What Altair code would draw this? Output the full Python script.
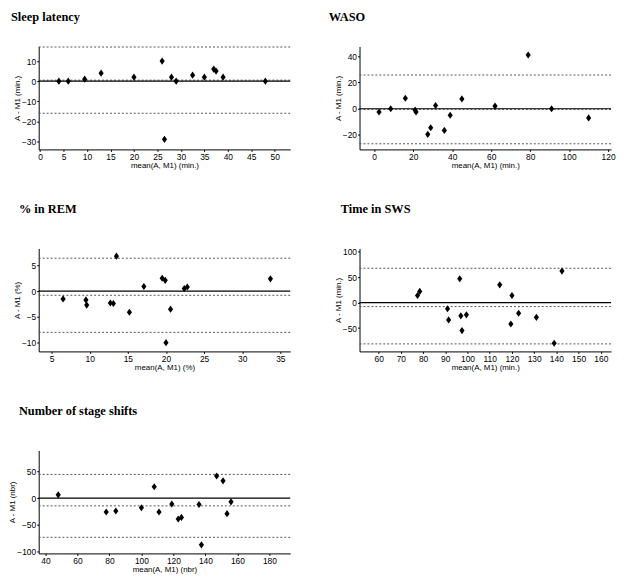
import altair as alt
import pandas as pd

# ---------------- data ----------------
# Sleep latency
sl_mean = [4, 6, 9.5, 13, 20, 26, 26.5, 28, 29, 32.5, 35, 37, 37.5, 39, 48]
sl_diff = [0, 0, 1, 4, 2, 10, -29, 2, 0, 3, 2, 6, 5, 2, 0]
sl_lines = [17, 0.5, -16]

# WASO
wa_mean = [2.5, 8.5, 16, 21, 21.5, 27.5, 29, 31.5, 36, 39, 45, 62, 79, 91, 110]
wa_diff = [-2.5, 0, 8, -1, -2.5, -19.5, -14.5, 2.5, -16.5, -5, 7.5, 2, 41, 0, -7]
wa_lines = [25.7, -0.5, -26.7]

# % in REM
re_mean = [6.5, 9.5, 9.6, 12.7, 13.1, 13.5, 15.2, 17.1, 19.5, 19.9, 20, 20.6, 22.4, 22.8, 33.7]
re_diff = [-1.5, -1.7, -2.7, -2.3, -2.4, 6.8, -4.1, 0.9, 2.5, 2.1, -10, -3.5, 0.5, 0.8, 2.4]
re_lines = [6.4, -0.8, -8.0]

# Time in SWS
sw_mean = [77.5, 78.5, 91, 91.5, 96.5, 97, 97.5, 99.5, 114.5, 119.5, 120, 123, 131, 139, 142.5]
sw_diff = [14, 22, -12, -34, 47, -26, -55, -24, 35, -42, 14, -21, -29, -80, 62]
sw_lines = [67.6, -7.8, -81.2]

# Number of stage shifts
ss_mean = [48, 78, 84, 100, 108, 111, 119, 123, 125, 136, 137.5, 147, 151, 153.5, 156]
ss_diff = [6, -26, -24, -18, 21, -26, -11, -39, -36, -12, -87, 41, 32, -29, -7]
ss_lines = [44, -14.5, -73]

W, H = 254, 104
DIAMOND = "M0,-1L0.72,0L0,1L-0.72,0Z"


def panel(title, dx, toff, xs, ys, lines, xdom, ydom, xticks, yticks, unit):
    x_enc = alt.X(
        "m:Q",
        scale=alt.Scale(domain=xdom, nice=False, zero=False),
        axis=alt.Axis(values=xticks, title=f"mean(A, M1)  ({unit})"),
    )
    y_enc = alt.Y(
        "d:Q",
        scale=alt.Scale(domain=ydom, nice=False, zero=False),
        axis=alt.Axis(values=yticks, title=f"A - M1  ({unit})", titlePadding=0),
    )
    pts = alt.Chart(pd.DataFrame({"m": xs, "d": ys})).mark_point(
        shape=DIAMOND, filled=True, color="black", size=52, opacity=1
    ).encode(x=x_enc, y=y_enc)
    zero = alt.Chart(pd.DataFrame({"d": [0]})).mark_rule(
        color="black", strokeWidth=1.2
    ).encode(y=y_enc)
    dots = alt.Chart(pd.DataFrame({"d": lines})).mark_rule(
        color="#555555", strokeDash=[2, 2], strokeWidth=1
    ).encode(y=y_enc)
    return alt.layer(dots, zero, pts).properties(
        width=W,
        height=H,
        title=alt.TitleParams(
            text=title, anchor="start", frame="group", dx=dx, offset=toff,
            font="Liberation Serif", fontSize=12.5, fontWeight="bold", color="black",
        ),
    )


p1 = panel("Sleep latency", -28, 23, sl_mean, sl_diff, sl_lines, [-0.3, 53.3], [-34, 17.3],
           list(range(0, 51, 5)), [-30, -20, -10, 0, 10], "min.")
p2 = panel("WASO", -31, 23, wa_mean, wa_diff, wa_lines, [-7.5, 121.5], [-31, 47.5],
           list(range(0, 121, 20)), [-20, 0, 20, 40], "min.")
p3 = panel("% in REM", -20, 33, re_mean, re_diff, re_lines, [3.3, 36.3], [-11.7, 8.3],
           list(range(5, 36, 5)), [-10, -5, 0, 5], "%")
p4 = panel("Time in SWS", -19, 33, sw_mean, sw_diff, sw_lines, [51.4, 164.6], [-96, 106.6],
           list(range(60, 161, 10)), [-50, 0, 50, 100], "min.")
p5 = panel("Number of stage shifts", -20, 33, ss_mean, ss_diff, ss_lines, [35.8, 193], [-103, 88.6],
           list(range(40, 181, 20)), [-100, -50, 0, 50], "nbr")

chart = alt.concat(
    p1, p2, p3, p4, p5, columns=2, spacing={"row": 100, "column": 70}, bounds="flush"
).properties(
    padding={"left": 0, "top": 0, "right": 0, "bottom": 0}
).configure_view(
    stroke=None
).configure_axis(
    grid=False,
    domainColor="black",
    domainWidth=1,
    tickColor="black",
    tickSize=2,
    labelFont="Liberation Sans",
    labelFontSize=8.5,
    labelColor="black",
    labelPadding=1,
    labelOverlap=False,
    labelFlush=False,
    titleFont="Liberation Sans",
    titleFontSize=8,
    titleFontWeight="normal",
    titleColor="black",
    titlePadding=1,
)

chart.save("out.html", embed_options={"renderer": "svg", "actions": False})
